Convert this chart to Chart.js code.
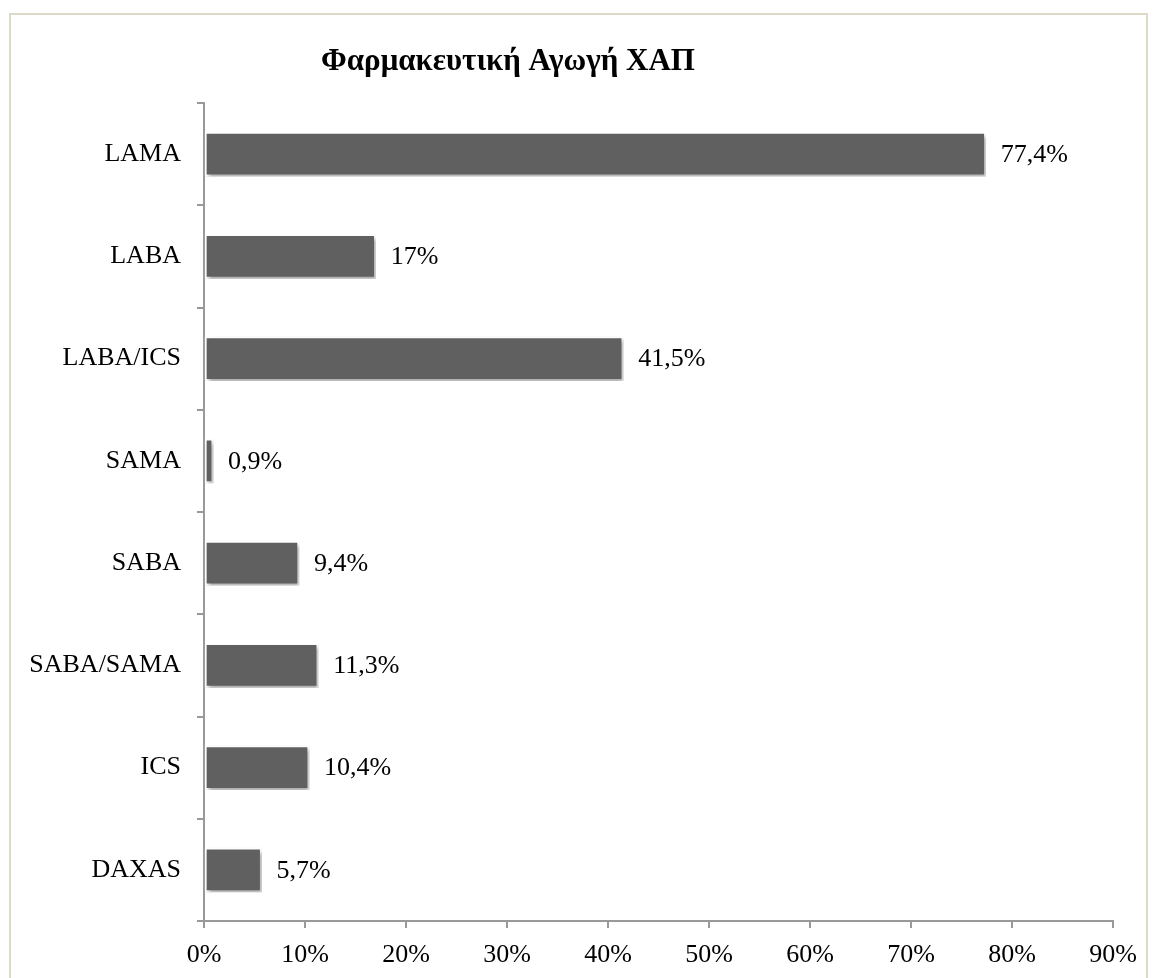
<!DOCTYPE html>
<html>
<head>
<meta charset="utf-8">
<script src="https://cdn.jsdelivr.net/npm/chart.js@4/dist/chart.umd.min.js"></script>
<style>
html,body{margin:0;padding:0;background:#fff;}
#wrap{position:relative;width:1154px;height:978px;overflow:hidden;}
#frame{position:absolute;left:9px;top:13px;width:1139px;height:1000px;border:2px solid #dcd9c6;box-sizing:border-box;}
canvas{position:absolute;left:0;top:0;}
</style>
</head>
<body>
<div id="wrap">
<div id="frame"></div>
<canvas id="c" width="1154" height="978"></canvas>
</div>
<script>
const chartTitle = "Φαρμακευτική Αγωγή ΧΑΠ";
const categories = ["LAMA","LABA","LABA/ICS","SAMA","SABA","SABA/SAMA","ICS","DAXAS"];
const values = [77.4, 17, 41.5, 0.9, 9.4, 11.3, 10.4, 5.7];
const xTicks = [0,10,20,30,40,50,60,70,80,90];

const FONT = "'Liberation Serif', 'Times New Roman', serif";

function fmt(v){ return String(v).replace('.', ',') + '%'; }

const shadowPlugin = {
  id:'barShadow',
  beforeDatasetsDraw(chart){
    const ctx = chart.ctx;
    ctx.save();
    ctx.shadowColor = 'rgba(0,0,0,0.35)';
    ctx.shadowBlur = 4;
    ctx.shadowOffsetX = 2;
    ctx.shadowOffsetY = 3;
  },
  afterDatasetsDraw(chart){
    const ctx = chart.ctx;
    ctx.restore();
    const meta = chart.getDatasetMeta(0);
    ctx.save();
    ctx.fillStyle = '#000';
    ctx.font = '26px ' + FONT;
    ctx.textAlign = 'left';
    ctx.textBaseline = 'middle';
    meta.data.forEach((bar, i) => {
      ctx.fillText(fmt(values[i]), bar.x + 15, bar.y + 1);
    });
    ctx.restore();
  }
};

const titlePlugin = {
  id:'customTitle',
  afterDraw(chart){
    const ctx = chart.ctx;
    ctx.save();
    ctx.fillStyle = '#000';
    ctx.font = 'bold 31px ' + FONT;
    ctx.textAlign = 'center';
    ctx.textBaseline = 'alphabetic';
    ctx.fillText(chartTitle, chart.chartArea.left + 304, 70);
    ctx.restore();
  }
};

new Chart(document.getElementById('c'), {
  type:'bar',
  data:{
    labels: categories,
    datasets:[{
      data: values,
      backgroundColor:'#606060',
      borderColor:'#ffffff',
      borderWidth:2,
      borderSkipped:false,
      barThickness:44
    }]
  },
  options:{
    indexAxis:'y',
    responsive:false,
    animation:false,
    events:[],
    layout:{padding:{left:0,right:41,top:103,bottom:0}},
    plugins:{legend:{display:false},title:{display:false},tooltip:{enabled:false}},
    scales:{
      y:{
        type:'category',
        offset:true,
        afterFit(s){ s.width = 204; },
        grid:{offset:true,drawOnChartArea:false,drawTicks:true,tickLength:7,color:'#999',lineWidth:2},
        border:{display:true,color:'#999',width:2},
        ticks:{color:'#000',font:{family:FONT,size:26},padding:16}
      },
      x:{
        type:'linear',
        min:0,max:90,
        afterFit(s){ s.height = 57; },
        afterBuildTicks(s){ s.ticks = xTicks.map(v=>({value:v})); },
        grid:{drawOnChartArea:false,drawTicks:true,tickLength:7,color:'#999',lineWidth:2},
        border:{display:true,color:'#999',width:2},
        ticks:{color:'#000',font:{family:FONT,size:26},padding:12,maxRotation:0,autoSkip:false,
          callback:(v)=> v + '%'}
      }
    }
  },
  plugins:[shadowPlugin,titlePlugin]
});
</script>
</body>
</html>
